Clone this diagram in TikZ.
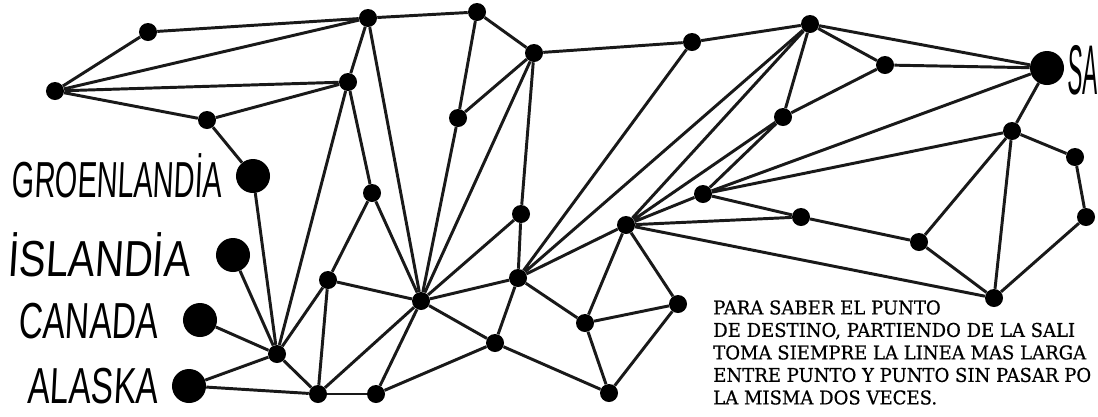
\documentclass[tikz,border=0pt]{standalone}
\usepackage{fontspec}
\usepackage{tikz}
\newfontfamily\handfont[FakeSlant=0.08]{Liberation Sans}
\newfontfamily\notefont[FakeStretch=0.95, FakeBold=0.6]{DejaVu Serif}
\newcommand{\hand}[2]{\scalebox{#1}[1]{#2}}

\begin{document}
\begin{tikzpicture}[x=0.025cm, y=-0.025cm,
    dot/.style={circle, fill=black, inner sep=0pt, minimum size=0.45cm},
    bigdot/.style={circle, fill=black, inner sep=0pt, minimum size=0.85cm},
    link/.style={line width=2.1pt, black!90},
    place/.style={font=\handfont\fontsize{36}{36}\selectfont, inner sep=0pt},
    note/.style={font=\notefont\fontsize{13.5}{16}\selectfont, align=left, inner sep=0pt}
]
\useasboundingbox (0,0) rectangle (1098,416);
% the four start points and the goal
\node[bigdot] (groen) at (253,176) {};
\node[bigdot] (islandia) at (233,255) {};
\node[bigdot] (canada) at (200,320) {};
\node[bigdot] (alaska) at (189,386) {};
\node[bigdot] (salida) at (1047,68) {};
% the network
\node[dot] (p1) at (55,91) {};
\node[dot] (p2) at (148,32) {};
\node[dot] (p3) at (368,18) {};
\node[dot] (p4) at (348,82) {};
\node[dot] (p5) at (207,120) {};
\node[dot] (p6) at (477,12) {};
\node[dot] (p7) at (534,53) {};
\node[dot] (p8) at (458,118) {};
\node[dot] (p9) at (692,42) {};
\node[dot] (p10) at (810,24) {};
\node[dot] (p11) at (885,65) {};
\node[dot] (p12) at (783,117) {};
\node[dot] (p13) at (1012,131) {};
\node[dot] (p14) at (1075,157) {};
\node[dot] (p15) at (703,194) {};
\node[dot] (p16) at (801,217) {};
\node[dot] (p17) at (1086,217) {};
\node[dot] (p18) at (919,242) {};
\node[dot] (p19) at (994,298) {};
\node[dot] (p20) at (626,225) {};
\node[dot] (p21) at (372,193) {};
\node[dot] (p22) at (521,214) {};
\node[dot] (p23) at (328,280) {};
\node[dot] (p24) at (421,301) {};
\node[dot] (p25) at (518,278) {};
\node[dot] (p26) at (277,354) {};
\node[dot] (p27) at (318,394) {};
\node[dot] (p28) at (376,394) {};
\node[dot] (p29) at (495,343) {};
\node[dot] (p30) at (585,323) {};
\node[dot] (p31) at (678,304) {};
\node[dot] (p32) at (609,393) {};
% connections
\draw[link] (p1) -- (p2) -- (p3) -- (p1) -- (p4) -- (p5) -- (p1);
\draw[link] (p5) -- (groen) -- (p26);
\draw[link] (p3) -- (p4) -- (p21);
\draw[link] (p4) -- (p26);
\draw[link] (p3) -- (p6) -- (p7) -- (p8) -- (p6);
\draw[link] (p3) -- (p24);
\draw[link] (p8) -- (p24);
\draw[link] (p7) -- (p24);
\draw[link] (p7) -- (p22) -- (p25);
\draw[link] (p22) -- (p24);
\draw[link] (p7) -- (p9) -- (p10) -- (p11) -- (salida) -- (p10);
\draw[link] (p9) -- (p25) -- (p10);
\draw[link] (p10) -- (p12) -- (p11);
\draw[link] (p10) -- (p20) -- (p12) -- (p15) -- (p20);
\draw[link] (salida) -- (p15) -- (p13) -- (salida);
\draw[link] (p13) -- (p14) -- (p17) -- (p19) -- (p13) -- (p18) -- (p19);
\draw[link] (p15) -- (p16) -- (p18);
\draw[link] (p20) -- (p16);
\draw[link] (p20) -- (p19);
\draw[link] (p20) -- (p25);
\draw[link] (p20) -- (p30) -- (p31) -- (p20);
\draw[link] (p25) -- (p30) -- (p32) -- (p31);
\draw[link] (p21) -- (p23) -- (p24) -- (p21);
\draw[link] (p24) -- (p25) -- (p29) -- (p24);
\draw[link] (p29) -- (p32);
\draw[link] (p24) -- (p27);
\draw[link] (p24) -- (p28) -- (p29);
\draw[link] (p23) -- (p26) -- (p27) -- (p23);
\draw[link] (p27) -- (p28);
\draw[link] (islandia) -- (p26);
\draw[link] (canada) -- (p26);
\draw[link] (alaska) -- (p26);
\draw[link] (alaska) -- (p27);
% names
\node[place, anchor=east] (lgroen) at (222,176) {\hand{0.57}{GROENLANDİA}};
\node[place, anchor=east] (lislandia) at (190,255) {\hand{0.79}{İSLANDİA}};
\node[place, anchor=east] (lcanada) at (158,321) {\hand{0.66}{CANADA}};
\node[place, anchor=east] (lalaska) at (158,386) {\hand{0.66}{ALASKA}};
\node[place, anchor=west, font=\handfont\fontsize{50}{50}\selectfont] (lsalida) at (1067,70) {\hand{0.32}{SA}};
\node[note, anchor=north west] (rule) at (713,300)
    {PARA SABER EL PUNTO\\
     DE DESTINO, PARTIENDO DE LA SALI\\
     TOMA SIEMPRE LA LINEA MAS LARGA\\
     ENTRE PUNTO Y PUNTO SIN PASAR PO\\
     LA MISMA DOS VECES.};
\end{tikzpicture}
\end{document}
